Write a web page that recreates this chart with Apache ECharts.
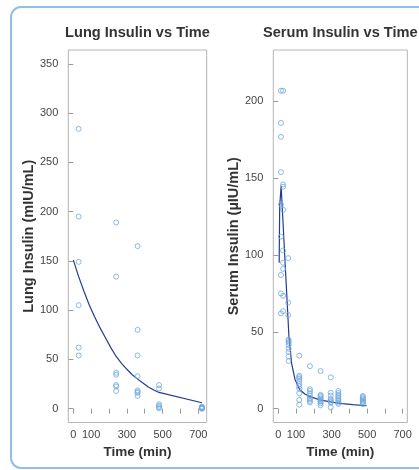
<!DOCTYPE html>
<html>
<head>
<meta charset="utf-8">
<script src="https://cdn.jsdelivr.net/npm/echarts@6/dist/echarts.min.js"></script>
<style>
html,body{margin:0;padding:0;background:#fff;}
#c{width:419px;height:470px;}
</style>
</head>
<body>
<div id="c"></div>
<script>
// ---- Lung insulin observations ----
const lungTime = [30,30,30,30,30,30, 240,240,240,240,240,240,240, 360,360,360,360,360,360,360,360, 480,480,480,480,480,480, 720,720,720,720,720,720];
const lungValue = [284,195,149,105,62,54, 189,134,36.5,34.5,24,22.5,18, 165,80,54,33,18.5,17,16,13, 24,20.5,4.5,3,1.5,0.5, 2,1.5,1,0.5,0.3,0];
// ---- Lung fitted curve ----
const lungFitTime = [0,30,60,90,120,150,180,210,240,270,300,330,360,390,420,450,480,720];
const lungFitValue = [151,134,119,105,93,82,72,62,53,46,40,34.5,30,26,22,19,16.5,6];

// ---- Serum insulin observations ----
const serumTime = [
  15,15,15,15,15,15,15,15,15,
  27,27,27,27,27,27,27,27,27,
  56,56,56,58,58,58,58,58,58,58,58,
  118,118,118,118,118,118,118,118,118,118,118,
  178,178,178,178,178,178,178,178,178,
  238,238,238,238,238,238,238,238,238,238,
  295,295,295,295,295,295,295,295,
  338,338,338,338,338,338,338,338,338,
  476,476,476,476,476,476,476,476
];
const serumValue = [
  207,186,177,154,133,112,87,75,62,
  207,146,144.5,129.5,103,95,91,73.5,63.5,
  98,69,61,45,44,43,41.5,39,37,34,31,
  34.5,21.5,20.5,19.5,18,16,14.5,13,10,5.7,2.6,
  27.7,12.7,11.5,10,8.5,7,6,5,4,
  24.5,9,8.3,7.5,6.5,5.7,5,4.5,3.5,2.2,
  20.4,10.4,8.5,6.3,5.5,4.5,3.9,0.9,
  11.5,10.2,9,8,7,6,5,4,3.1,
  8.3,7.5,6.8,6,5.2,4.5,3.9,3
];
// ---- Serum fitted curve ----
const serumFitTime = [5,8,16,60,75,94,122,150,178,235,300,360,420,497];
const serumFitValue = [95,132,145,47,29.5,19,12.2,9.5,7.8,5.7,4.3,3.3,2.6,1.9];

// ---- Tick labels ----
const xTicks = [0,100,200,300,400,500,600,700];
const xLabels = [0,100,300,500,700];
const lungYTicks = [0,50,100,150,200,250,300,350];
const serumYTicks = [0,50,100,150,200];

const zip = (a,b) => a.map((v,i)=>[v,b[i]]);

const FONT = 'Liberation Sans, Arial, Helvetica, sans-serif';
const PT = '#6fa8e0';
const LN = '#223c92';
const FRAME = '#b5b5b5';

function xAxis(gi, max) {
  return {
    type:'value', gridIndex:gi, min:-28, max:max,
    name:'Time (min)', nameLocation:'middle', nameGap:23,
    nameTextStyle:{fontFamily:FONT, fontWeight:'bold', fontSize:13.5, color:'#333'},
    axisLine:{show:false},
    axisTick:{show:true, length:5, lineStyle:{color:'#999'}, customValues:xTicks},
    axisLabel:{fontFamily:FONT, fontSize:11, color:'#444', margin:7, customValues:xLabels},
    splitLine:{show:false}
  };
}
function yAxis(gi, min, max, ticks, name, gap) {
  return {
    type:'value', gridIndex:gi, min:min, max:max,
    name:name, nameLocation:'middle', nameGap:gap,
    nameTextStyle:{fontFamily:FONT, fontWeight:'bold', fontSize:14.5, color:'#333'},
    axisLine:{show:false},
    axisTick:{show:true, length:5, lineStyle:{color:'#999'}, customValues:ticks},
    axisLabel:{fontFamily:FONT, fontSize:11, color:'#444', margin:10, customValues:ticks},
    splitLine:{show:false}
  };
}
const pointStyle = {color:'rgba(0,0,0,0)', borderColor:PT, borderWidth:1};

const chart = echarts.init(document.getElementById('c'), null, {renderer:'canvas'});
chart.setOption({
  backgroundColor:'#fff',
  animation:false,
  grid:[
    {left:68.3, top:50, width:138.4, height:372.5, show:true, borderColor:FRAME, borderWidth:1, backgroundColor:'transparent'},
    {left:273.3, top:50, width:134, height:372.5, show:true, borderColor:FRAME, borderWidth:1, backgroundColor:'transparent'}
  ],
  xAxis:[xAxis(0, 747), xAxis(1, 726)],
  yAxis:[
    yAxis(0, -14, 364, lungYTicks, 'Lung Insulin (mIU/mL)', 27),
    yAxis(1, -9, 233.5, serumYTicks, 'Serum Insulin (µIU/mL)', 28)
  ],
  graphic:[
    {type:'rect', shape:{x:11, y:7, width:430, height:461, r:10}, style:{fill:'none', stroke:'#8fbfea', lineWidth:2}, silent:true},
    {type:'text', style:{text:'Lung Insulin vs Time', x:137.5, y:33, align:'center', verticalAlign:'middle', textAlign:'center', textVerticalAlign:'middle', font:'bold 14.6px ' + FONT, fill:'#333'}},
    {type:'text', style:{text:'Serum Insulin vs Time', x:340.3, y:33, align:'center', verticalAlign:'middle', textAlign:'center', textVerticalAlign:'middle', font:'bold 14.6px ' + FONT, fill:'#333'}}
  ],
  series:[
    {type:'line', xAxisIndex:0, yAxisIndex:0, data:zip(lungFitTime, lungFitValue), showSymbol:false, lineStyle:{color:LN, width:1.2}, z:2},
    {type:'scatter', xAxisIndex:0, yAxisIndex:0, data:zip(lungTime, lungValue), symbol:'circle', symbolSize:5, itemStyle:pointStyle, z:3},
    {type:'line', xAxisIndex:1, yAxisIndex:1, data:zip(serumFitTime, serumFitValue), showSymbol:false, lineStyle:{color:LN, width:1.2}, z:2},
    {type:'scatter', xAxisIndex:1, yAxisIndex:1, data:zip(serumTime, serumValue), symbol:'circle', symbolSize:5, itemStyle:pointStyle, z:3}
  ]
});
</script>
</body>
</html>
